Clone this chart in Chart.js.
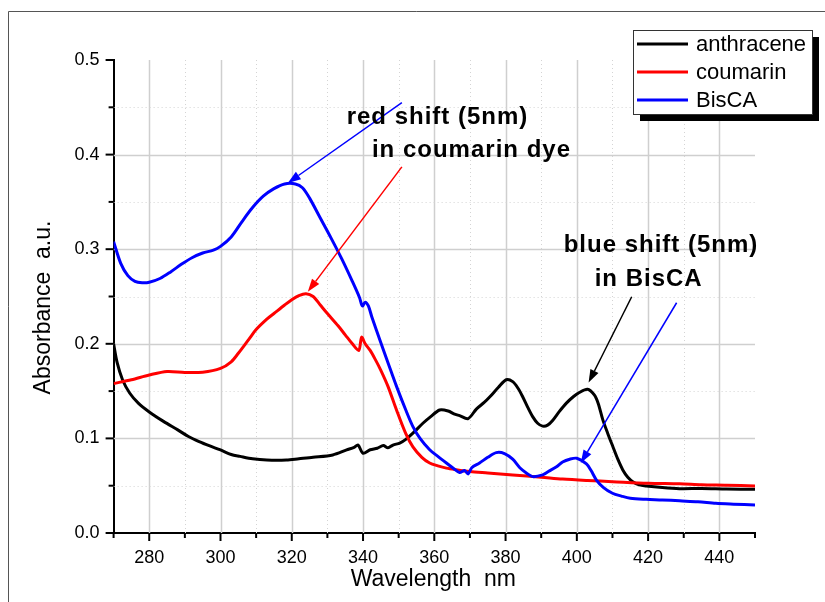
<!DOCTYPE html>
<html>
<head>
<meta charset="utf-8">
<title>Absorbance spectra</title>
<script src="https://cdn.jsdelivr.net/npm/chart.js@4.4.1/dist/chart.umd.min.js"></script>
<style>
    html, body { margin: 0; padding: 0; background: #fff; }
    #wrap { width: 825px; height: 602px; position: relative; }
</style>
</head>
<body>
<div id="wrap"><canvas id="absChart" width="825" height="602"></canvas></div>
<script>
// absorbance spectra: anthracene / coumarin / BisCA

const anthNm  = [270, 271, 272.5, 274.5, 277, 280, 284, 288, 291, 294, 297, 300, 303, 305.5, 309, 313, 318.5, 322, 326, 331.5, 335.4, 337.5, 338.6, 340, 342, 344, 345.7, 347, 348.4, 350.3, 352, 354, 356.8, 359, 361.5, 363.9, 365.5, 367.1, 369.5, 371.8, 374, 375.6, 378, 380.2, 382, 383.5, 384.8, 386.2, 387.6, 389, 390.4, 391.8, 393.2, 395, 397, 399, 400.7, 403, 404.9, 406, 407.3, 408.7, 410.1, 411.5, 412.9, 414.3, 415.7, 417.5, 419.5, 424, 428.8, 435, 442, 450];
const anthAbs = [0.200, 0.180, 0.162, 0.148, 0.137, 0.128, 0.118, 0.109, 0.102, 0.0966, 0.092, 0.0878, 0.083, 0.081, 0.0785, 0.0772, 0.0772, 0.0785, 0.080, 0.0825, 0.0878, 0.0905, 0.093, 0.0843, 0.088, 0.0896, 0.0924, 0.090, 0.093, 0.095, 0.099, 0.1055, 0.116, 0.123, 0.130, 0.129, 0.126, 0.124, 0.121, 0.131, 0.138, 0.144, 0.154, 0.162, 0.160, 0.153, 0.144, 0.133, 0.123, 0.116, 0.113, 0.114, 0.119, 0.128, 0.137, 0.144, 0.1485, 0.152, 0.146, 0.137, 0.1196, 0.105, 0.0914, 0.078, 0.0667, 0.059, 0.0543, 0.051, 0.0497, 0.048, 0.0469, 0.047, 0.0465, 0.0462];

const coumNm  = [270, 275, 280, 285, 290, 295, 300, 303, 305, 308, 310, 313, 315, 318, 320, 322, 324, 326, 328, 330, 333, 335, 337, 338.8, 339.6, 340.6, 342, 343.5, 345, 347, 349.4, 352, 354, 356.5, 358.7, 361, 363.4, 366, 370, 375, 382, 390, 396, 403, 410, 420, 428.8, 435, 442, 450];
const coumAbs = [0.158, 0.162, 0.167, 0.1707, 0.1697, 0.170, 0.174, 0.181, 0.190, 0.205, 0.215, 0.226, 0.232, 0.241, 0.2466, 0.251, 0.253, 0.250, 0.241, 0.232, 0.219, 0.2095, 0.200, 0.193, 0.207, 0.200, 0.193, 0.183, 0.172, 0.155, 0.130, 0.105, 0.091, 0.080, 0.074, 0.071, 0.0686, 0.067, 0.065, 0.0635, 0.0614, 0.059, 0.057, 0.0555, 0.0543, 0.0526, 0.052, 0.051, 0.0505, 0.0497];

const bisNm  = [270, 272, 274, 276, 278, 280, 283, 286, 289, 292, 295, 298, 300, 303, 306, 309, 312, 315, 318, 321, 323, 325, 328, 331, 334, 337, 339, 339.8, 340.6, 341.5, 342.5, 345, 347, 349.4, 352, 354, 356, 358.7, 361, 363.4, 365.5, 367.1, 368.5, 369.5, 370.5, 372.7, 375, 377.4, 379.7, 382, 384, 386, 387.6, 390.4, 392, 394.3, 396, 398, 400, 402.7, 404, 405.5, 407.5, 410, 412.5, 415, 419.5, 424, 428.8, 434, 439, 444, 450];
const bisAbs = [0.308, 0.285, 0.272, 0.266, 0.2645, 0.265, 0.269, 0.276, 0.284, 0.291, 0.296, 0.299, 0.303, 0.313, 0.329, 0.344, 0.356, 0.364, 0.369, 0.369, 0.365, 0.354, 0.333, 0.312, 0.290, 0.266, 0.249, 0.240, 0.244, 0.240, 0.228, 0.201, 0.180, 0.155, 0.130, 0.1125, 0.100, 0.088, 0.081, 0.074, 0.068, 0.064, 0.066, 0.0625, 0.069, 0.074, 0.080, 0.085, 0.084, 0.078, 0.069, 0.063, 0.0596, 0.0614, 0.065, 0.070, 0.075, 0.078, 0.079, 0.073, 0.066, 0.056, 0.048, 0.042, 0.039, 0.0367, 0.0356, 0.035, 0.034, 0.033, 0.0314, 0.0305, 0.0296];

const seriesNames  = ['anthracene', 'coumarin', 'BisCA'];
const seriesColors = ['#000000', '#ff0000', '#0000ff'];

// annotations: [text, nm, abs] and arrows [tailNm, tailAbs, tipNm, tipAbs, colour]
const noteLines = [
    ['red shift (5nm)', 335.4, 0.432],
    ['in coumarin dye', 342.5, 0.397],
    ['blue shift (5nm)', 396.3, 0.2974],
    ['in BisCA', 405.0, 0.2614]
];
const arrowDefs = [
    [350.9, 0.455, 318.9, 0.370, '#0000ff'],
    [350.9, 0.387, 324.5, 0.255, '#ff0000'],
    [415.4, 0.2497, 403.3, 0.159, '#000000'],
    [428.0, 0.2434, 401.1, 0.074, '#0000ff']
];

const FONT = '"Liberation Sans", Arial, sans-serif';

const _pts = (xs, ys) => xs.map((v, i) => ({ x: v, y: ys[i] }));

const _drawArrow = (ctx, x1, y1, x2, y2, color) => {
    const ang = Math.atan2(y2 - y1, x2 - x1);
    const len = 13, half = 4.5;
    const bx = x2 - len * Math.cos(ang), by = y2 - len * Math.sin(ang);
    ctx.strokeStyle = color;
    ctx.fillStyle = color;
    ctx.lineWidth = 1.5;
    ctx.beginPath();
    ctx.moveTo(x1, y1);
    ctx.lineTo(bx, by);
    ctx.stroke();
    ctx.beginPath();
    ctx.moveTo(x2, y2);
    ctx.lineTo(bx + half * Math.sin(ang), by - half * Math.cos(ang));
    ctx.lineTo(bx - half * Math.sin(ang), by + half * Math.cos(ang));
    ctx.closePath();
    ctx.fill();
};

const decorPlugin = {
    id: 'decor',
    beforeDraw(chart) {
        const { ctx } = chart;
        ctx.save();
        // outer frame
        ctx.strokeStyle = '#555';
        ctx.lineWidth = 1;
        ctx.beginPath();
        ctx.moveTo(8.5, 602);
        ctx.lineTo(8.5, 11.5);
        ctx.lineTo(825, 11.5);
        ctx.stroke();
        ctx.restore();
    },
    beforeDatasetsDraw(chart) {
        const { ctx, chartArea: a, scales: { x, y } } = chart;
        ctx.save();
        ctx.lineWidth = 1;
        // vertical grid
        for (let v = 280; v < 450; v += 10) {
            const px = Math.round(x.getPixelForValue(v)) + 0.5;
            const major = (v - 280) % 20 === 0;
            ctx.strokeStyle = major ? '#cfcfcf' : '#d4d4d4';
            ctx.lineWidth = major ? 1.5 : 1;
            ctx.setLineDash(major ? [] : [1, 3]);
            ctx.beginPath();
            ctx.moveTo(px, a.top);
            ctx.lineTo(px, a.bottom);
            ctx.stroke();
        }
        // horizontal grid
        for (let k = 1; k < 10; k++) {
            const v = k * 0.05;
            const py = Math.round(y.getPixelForValue(v)) + 0.5;
            const major = k % 2 === 0;
            ctx.strokeStyle = major ? '#cfcfcf' : '#d4d4d4';
            ctx.lineWidth = major ? 1.5 : 1;
            ctx.setLineDash(major ? [] : [1, 3]);
            ctx.beginPath();
            ctx.moveTo(a.left, py);
            ctx.lineTo(a.right, py);
            ctx.stroke();
        }
        ctx.restore();
    },
    afterDatasetsDraw(chart) {
        const { ctx, chartArea: a, scales: { x, y } } = chart;
        ctx.save();
        // tick marks
        ctx.strokeStyle = '#000';
        ctx.lineWidth = 2;
        for (let k = 0; k <= 10; k++) {
            const py = y.getPixelForValue(k * 0.05);
            const len = k % 2 === 0 ? 8 : 5;
            ctx.beginPath();
            ctx.moveTo(a.left - len, py);
            ctx.lineTo(a.left, py);
            ctx.stroke();
        }
        for (let v = 270; v <= 450; v += 10) {
            const px = x.getPixelForValue(v);
            const len = (v - 280) % 20 === 0 ? 8 : 5;
            ctx.beginPath();
            ctx.moveTo(px, a.bottom);
            ctx.lineTo(px, a.bottom + len);
            ctx.stroke();
        }

        // arrows
        arrowDefs.forEach(d => {
            _drawArrow(ctx, x.getPixelForValue(d[0]), y.getPixelForValue(d[1]),
                x.getPixelForValue(d[2]), y.getPixelForValue(d[3]), d[4]);
        });

        // annotation text
        ctx.fillStyle = '#000';
        ctx.font = 'bold 24px ' + FONT;
        ctx.letterSpacing = '1px';
        ctx.textAlign = 'left';
        ctx.textBaseline = 'alphabetic';
        noteLines.forEach(n => {
            ctx.fillText(n[0], x.getPixelForValue(n[1]), y.getPixelForValue(n[2]));
        });
        ctx.letterSpacing = '0px';

        // axis titles
        ctx.font = '23px ' + FONT;
        ctx.textAlign = 'center';
        ctx.fillText('Wavelength  nm', (a.left + a.right) / 2 - 1, 586);
        ctx.save();
        ctx.translate(50, (a.top + a.bottom) / 2 + 11);
        ctx.rotate(-Math.PI / 2);
        ctx.fillText('Absorbance  a.u.', 0, 0);
        ctx.restore();

        // legend box with shadow
        const lx = 633, ly = 30, lw = 179, lh = 84;
        ctx.fillStyle = '#000';
        ctx.fillRect(lx + 7, ly + 7, lw, lh);
        ctx.fillStyle = '#fff';
        ctx.fillRect(lx, ly, lw, lh);
        ctx.strokeStyle = '#333';
        ctx.lineWidth = 1;
        ctx.strokeRect(lx + 0.5, ly + 0.5, lw, lh);
        ctx.font = '22px ' + FONT;
        ctx.textAlign = 'left';
        ctx.textBaseline = 'middle';
        seriesNames.forEach((name, i) => {
            const ry = ly + 14 + i * 28;
            ctx.strokeStyle = seriesColors[i];
            ctx.lineWidth = 3;
            ctx.beginPath();
            ctx.moveTo(lx + 4, ry);
            ctx.lineTo(lx + 55, ry);
            ctx.stroke();
            ctx.fillStyle = '#000';
            ctx.fillText(name, lx + 63, ry + 1);
        });
        ctx.restore();
    }
};

const _ds = (label, xs, ys, color, order) => ({
    label,
    data: _pts(xs, ys),
    borderColor: color,
    borderWidth: 3,
    pointRadius: 0,
    tension: 0.3,
    fill: false,
    order
});

new Chart(document.getElementById('absChart').getContext('2d'), {
    type: 'line',
    data: {
        datasets: [
            _ds(seriesNames[0], anthNm, anthAbs, seriesColors[0], 3),
            _ds(seriesNames[1], coumNm, coumAbs, seriesColors[1], 2),
            _ds(seriesNames[2], bisNm, bisAbs, seriesColors[2], 1)
        ]
    },
    options: {
        responsive: false,
        animation: false,
        layout: { padding: { top: 60, right: 70, left: 0, bottom: 0 } },
        plugins: { legend: { display: false }, tooltip: { enabled: false } },
        scales: {
            x: {
                type: 'linear',
                min: 270,
                max: 450,
                afterFit(s) { s.height = 69; },
                grid: { display: false, drawTicks: false },
                border: { display: true, color: '#000', width: 2 },
                ticks: {
                    stepSize: 10,
                    autoSkip: false,
                    maxRotation: 0,
                    padding: 14,
                    color: '#000',
                    font: { family: FONT, size: 18 },
                    callback: v => ((v - 280) % 20 === 0 ? String(v) : '')
                }
            },
            y: {
                min: 0,
                max: 0.5,
                afterFit(s) { s.width = 113.6; },
                grid: { display: false, drawTicks: false },
                border: { display: true, color: '#000', width: 2 },
                ticks: {
                    stepSize: 0.1,
                    padding: 14,
                    color: '#000',
                    font: { family: FONT, size: 18 },
                    callback: v => v.toFixed(1)
                }
            }
        }
    },
    plugins: [decorPlugin]
});
</script>
</body>
</html>
